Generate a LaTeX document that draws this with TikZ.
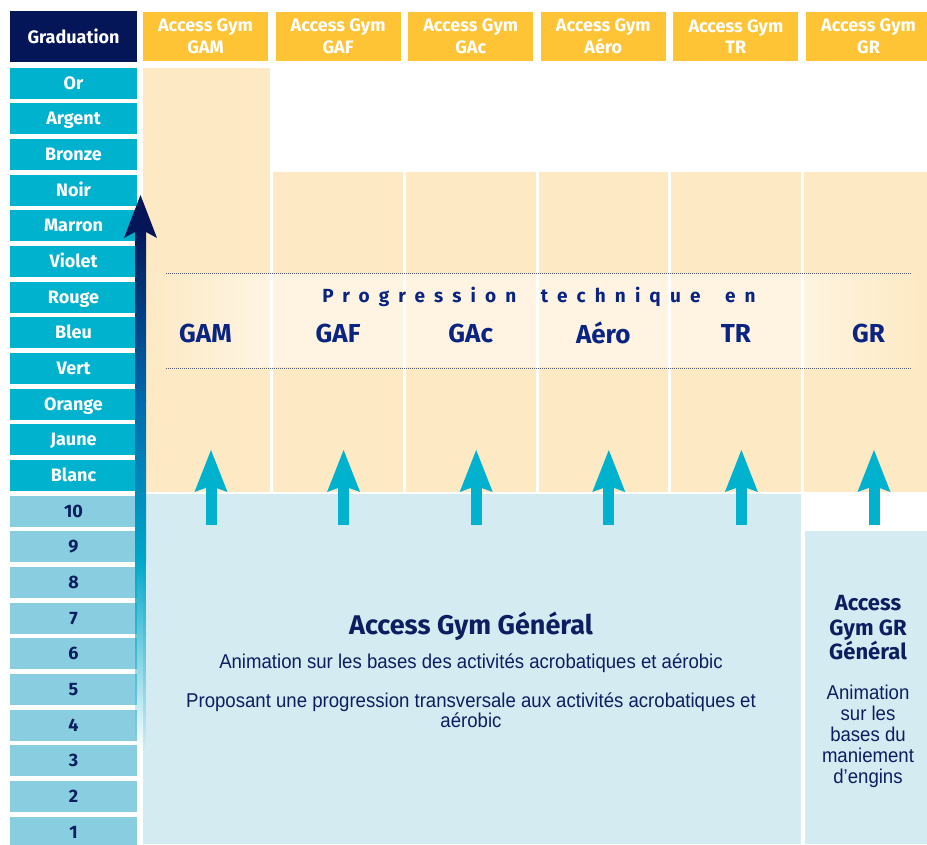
\documentclass[tikz,border=0pt]{standalone}
\usepackage{fontspec}
\setmainfont{Fira Sans}
\newfontfamily\narrowfont[FakeStretch=0.93]{Liberation Sans}
\newfontfamily\trackfont[LetterSpace=48]{Fira Sans}
\usetikzlibrary{arrows.meta,positioning,fadings}

\definecolor{gradNavy}{RGB}{4,22,88}
\definecolor{beltCyan}{RGB}{0,178,205}
\definecolor{levelBlue}{RGB}{137,206,224}
\definecolor{gymYellow}{RGB}{254,196,53}
\definecolor{gymBeige}{RGB}{253,233,195}
\definecolor{bandLight}{RGB}{254,244,225}
\definecolor{baseBlue}{RGB}{213,235,242}
\definecolor{textNavy}{RGB}{12,30,95}
\definecolor{labelBlue}{RGB}{10,36,130}
\definecolor{arrowBlue}{RGB}{0,105,172}

\begin{document}
\begin{tikzpicture}[x=1pt, y=-1pt,
  rowbox/.style={minimum width=127, minimum height=31, inner sep=0pt,
    text height=12.4pt, text depth=0pt, font=\fontsize{18}{20}\selectfont\bfseries},
  belt/.style={rowbox, fill=beltCyan, text=white},
  level/.style={rowbox, fill=levelBlue, text=textNavy},
  headbox/.style={minimum width=125, minimum height=49, inner sep=0pt, fill=gymYellow,
    text=white, align=center, font=\fontsize{18}{21.5}\selectfont\bfseries},
  discipline/.style={text=labelBlue, font=\fontsize{26}{28}\selectfont\bfseries},
  uparrow/.style={line width=11pt, beltCyan,
    -{Stealth[length=42pt, width=33pt, inset=6pt, line width=0pt]}},
  dotline/.style={gray!60!textNavy, line width=0.8pt, dash pattern=on 1pt off 1pt},
]
\useasboundingbox (0,0) rectangle (927,844);
\clip (0,0) rectangle (927,844);

% graduation column
\node[fill=gradNavy, text=white, minimum width=127, minimum height=51, inner sep=0pt,
  font=\fontsize{18}{20}\selectfont\bfseries] (grad) at (73.5,36.5) {Graduation};
\foreach \lab [count=\i from 0] in {Or,Argent,Bronze,Noir,Marron,Violet,Rouge,Bleu,Vert,Orange,Jaune,Blanc}
  \node[belt] (belt\i) at (73.5,{83+35.67*\i}) {\lab};
\foreach \lab [count=\i from 12] in {10,9,...,1}
  \node[level] (lvl\lab) at (73.5,{83+35.67*\i}) {\lab};

% base areas
\fill[baseBlue] (143,494) rectangle (801,844);
\fill[baseBlue] (805,531) rectangle (927,844);

% disciplines
\foreach \id/\lab [count=\k from 0] in {gam/GAM,gaf/GAF,gac/GAc,aero/Aéro,tr/TR,gr/GR} {
  \node[headbox] (head-\id) at ({205.5+132.6*\k},36.5) {Access Gym\\\lab};
  \pgfmathsetmacro\colL{\k==0 ? 143 : 273+132.8*(\k-1)}
  \pgfmathsetmacro\colR{270+132.8*\k}
  \pgfmathsetmacro\colT{\k==0 ? 68 : 172}
  \fill[gymBeige] (\colL,\colT) rectangle (\colR,492);
}

% progression band
\shade[left color=gymBeige, right color=bandLight] (143,274) rectangle (262,367);
\fill[bandLight] (261,274) rectangle (801,367);
\shade[left color=bandLight, right color=gymBeige] (800,274) rectangle (927,367);
\foreach \k in {0,...,4}
  \draw[white, line width=3pt] ({271.5+132.8*\k},272) -- ({271.5+132.8*\k},369);
\draw[dotline] (166,273) -- (912,273);
\draw[dotline] (166,368) -- (912,368);
\node[text=labelBlue, font=\trackfont\fontsize{19}{21}\selectfont\bfseries] (prog) at (539,297)
  {Progression\hspace{11pt} technique\hspace{11pt} en};

\foreach \id/\lab [count=\k from 0] in {gam/GAM,gaf/GAF,gac/GAc,aero/Aéro,tr/TR,gr/GR} {
  \node[discipline] (lab-\id) at ({205.5+132.6*\k},333) {\lab};
  \coordinate (foot-\id) at ({211+132.6*\k},525);
  \coordinate (tip-\id) at ({211+132.6*\k},450);
  \draw[uparrow] (foot-\id) -- (tip-\id);
}

% general progression arrow
\coordinate (prog-tip) at (140.5,195);
\coordinate (prog-foot) at (140.5,750);
\shade[top color=gradNavy, bottom color=arrowBlue] (135,228) rectangle (146,401);
\shade[top color=arrowBlue, bottom color=beltCyan!85!arrowBlue] (135,400) rectangle (146,561);
\fill[beltCyan!85!arrowBlue, path fading=south] (135,560) rectangle (prog-foot -| 146,0);
\fill[gradNavy] (prog-tip) -- (157,238) -- (140.5,229) -- (124,238) -- cycle;

% access gym general
\node[text=textNavy, font=\fontsize{27}{30}\selectfont\bfseries] (gen-title) at (471,626)
  {Access Gym Général};
\node[text=textNavy, font=\narrowfont\fontsize{20}{21}\selectfont] (gen-anim) at (471,663)
  {Animation sur les bases des activités acrobatiques et aérobic};
\node[text=textNavy, align=center, font=\narrowfont\fontsize{20}{20.5}\selectfont] (gen-prop) at (471,710)
  {Proposant une progression transversale aux activités acrobatiques et\\aérobic};

\node[text=textNavy, align=center, font=\fontsize{22}{24.5}\selectfont\bfseries] (gr-title) at (868,628)
  {Access\\Gym GR\\Général};
\node[text=textNavy, align=center, font=\narrowfont\fontsize{20}{21}\selectfont] (gr-anim) at (868,736)
  {Animation\\sur les\\bases du\\maniement\\d’engins};
\end{tikzpicture}
\end{document}
